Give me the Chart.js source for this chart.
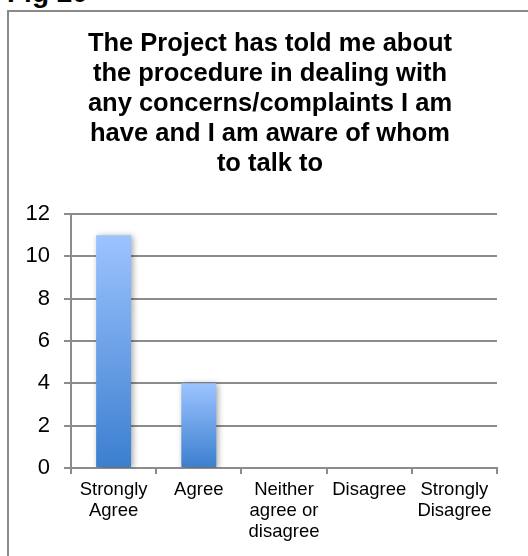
<!DOCTYPE html>
<html>
<head>
<meta charset="utf-8">
<script src="https://cdn.jsdelivr.net/npm/chart.js@4/dist/chart.umd.min.js"></script>
<style>
  html, body { margin: 0; padding: 0; overflow: hidden; background: #fff; width: 528px; height: 556px; }
  #fig { position: absolute; left: 7px; top: -21px; font: bold 28px/28px "Liberation Sans", Arial, sans-serif; color: #000; white-space: nowrap; }
  #frame { position: absolute; left: 7px; top: 10px; width: 526px; height: 560px; border: 2px solid #8a8a8a; background: #fff; }
  canvas { display: block; }
</style>
</head>
<body>
<div id="fig">Fig 20</div>
<div id="frame"><canvas id="c" width="526" height="548"></canvas></div>
<script>
// Survey responses
const categories = [
  ['Strongly', 'Agree'],
  ['Agree'],
  ['Neither', 'agree or', 'disagree'],
  ['Disagree'],
  ['Strongly', 'Disagree']
];
const responses = [11, 4, 0, 0, 0];
const yTicks = [0, 2, 4, 6, 8, 10, 12];
const titleLines = [
  'The Project has told me about',
  'the procedure in dealing with',
  'any concerns/complaints I am',
  'have and I am aware of whom',
  'to talk to'
];

const FONT = '"Liberation Sans", Arial, Helvetica, sans-serif';
const GRID = '#8c8c8c';

// Vertical gradient per bar: light blue at the top, deeper blue at the base
function barFill(ctx) {
  const chart = ctx.chart;
  const y = chart.scales && chart.scales.y;
  if (!y || !chart.chartArea) return '#6fa3e8';
  const v = ctx.raw;
  const top = y.getPixelForValue(v);
  const base = y.getPixelForValue(0);
  if (Math.abs(base - top) < 1) return '#6fa3e8';
  const g = chart.ctx.createLinearGradient(0, top, 0, base);
  g.addColorStop(0, '#9cc4ff');
  g.addColorStop(1, '#3b7ecf');
  return g;
}

// Soft drop shadow behind the bars
const barShadow = {
  id: 'barShadow',
  beforeDatasetsDraw(chart) {
    const c = chart.ctx;
    c.save();
    c.shadowColor = 'rgba(0,0,0,0.35)';
    c.shadowBlur = 6;
    c.shadowOffsetX = 2;
    c.shadowOffsetY = 1;
  },
  afterDatasetsDraw(chart) {
    chart.ctx.restore();
  }
};

new Chart(document.getElementById('c'), {
  type: 'bar',
  data: {
    labels: categories,
    datasets: [{
      data: responses,
      backgroundColor: barFill,
      borderWidth: 0,
      categoryPercentage: 1.0,
      barPercentage: 0.41
    }]
  },
  plugins: [barShadow],
  options: {
    responsive: false,
    animation: false,
    layout: { padding: { left: 0, right: 4, top: 7, bottom: 0 } },
    plugins: {
      legend: { display: false },
      tooltip: { enabled: false },
      title: {
        display: true,
        text: titleLines,
        color: '#000',
        font: { family: FONT, size: 25.5, weight: 'bold', lineHeight: '30px' },
        padding: { top: 10, bottom: 35 }
      }
    },
    scales: {
      x: {
        afterFit(scale) { scale.height = 92; },
        grid: {
          display: true,
          drawOnChartArea: false,
          drawTicks: true,
          tickLength: 6,
          color: GRID,
          lineWidth: 2,
          offset: true
        },
        border: { display: true, color: GRID, width: 2 },
        ticks: {
          color: '#000',
          font: { family: FONT, size: 18.5, lineHeight: '20.7px' },
          maxRotation: 0,
          autoSkip: false,
          padding: 6
        }
      },
      y: {
        min: 0,
        max: 12,
        afterBuildTicks(scale) {
          scale.ticks = yTicks.map(v => ({ value: v }));
        },
        afterFit(scale) { scale.width = 62; },
        grid: {
          color: GRID,
          lineWidth: 2,
          drawTicks: true,
          tickLength: 7
        },
        border: { display: true, color: GRID, width: 2 },
        ticks: {
          color: '#000',
          font: { family: FONT, size: 22 },
          padding: 14
        }
      },
      // empty margin on the right of the plot area
      gutter: {
        type: 'linear',
        position: 'right',
        afterFit(scale) { scale.width = 34; },
        grid: { display: false },
        border: { display: false },
        ticks: { display: false }
      }
    }
  }
});
</script>
</body>
</html>
